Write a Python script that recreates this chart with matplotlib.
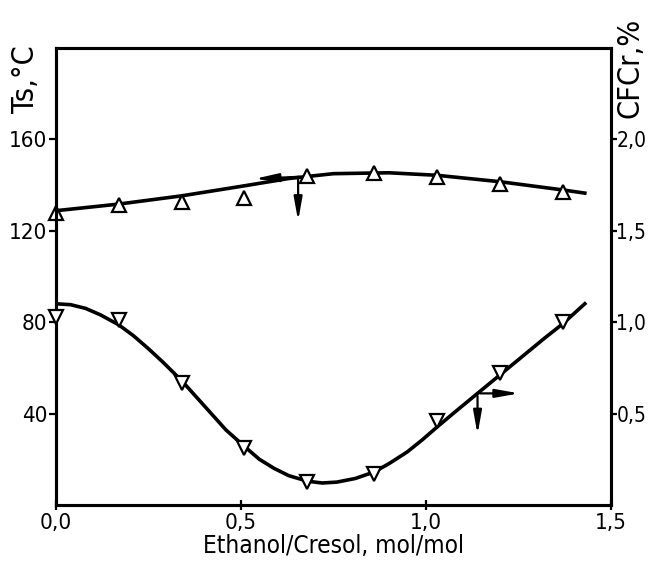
import numpy as np
import matplotlib.pyplot as plt

plt.rcParams['font.family'] = ['DejaVu Sans']
plt.rcParams['font.stretch'] = 'condensed'

# Ts data (left axis, deg C)
x_pts = [0.0, 0.17, 0.34, 0.51, 0.68, 0.86, 1.03, 1.20, 1.37]
ts_pts = [127.5, 131.3, 132.5, 134.3, 143.8, 145.3, 143.5, 140.6, 137.0]
# smooth Ts curve
ts_curve_x = [0.0, 0.17, 0.34, 0.51, 0.63, 0.75, 0.90, 1.03, 1.20, 1.37, 1.43]
ts_curve_y = [128.7, 131.6, 135.2, 139.6, 142.8, 144.9, 145.3, 144.2, 141.4, 137.8, 136.4]

# CFCr data (right axis, %)
cf_pts = [1.03, 1.01, 0.665, 0.31, 0.127, 0.168, 0.458, 0.72, 1.00]
cf_curve_x = [0.0, 0.04, 0.08, 0.12, 0.17, 0.21, 0.25, 0.29, 0.34, 0.38, 0.42, 0.46,
              0.51, 0.55, 0.59, 0.63, 0.68, 0.72, 0.76, 0.81, 0.86, 0.90, 0.95, 0.99,
              1.03, 1.08, 1.14, 1.20, 1.26, 1.32, 1.37, 1.43]
cf_curve_y = [1.10, 1.095, 1.075, 1.04, 0.985, 0.925, 0.855, 0.78, 0.68, 0.59, 0.50, 0.41,
              0.32, 0.25, 0.20, 0.16, 0.13, 0.12, 0.125, 0.145, 0.18, 0.225, 0.29, 0.355,
              0.425, 0.51, 0.61, 0.71, 0.81, 0.91, 0.99, 1.10]

# axis-indicator arrows (x, y) : start -> end
ts_arrow_h = [(0.665, 143.6), (0.53, 142.6)]
ts_arrow_v = [(0.655, 143.6), (0.655, 123.0)]
cf_arrow_h = [(1.14, 0.61), (1.26, 0.61)]
cf_arrow_v = [(1.14, 0.61), (1.14, 0.37)]

xticks = [0.0, 0.5, 1.0, 1.5]
yticks_l = [40, 80, 120, 160]
yticks_r = [0.5, 1.0, 1.5, 2.0]

fig = plt.figure(figsize=(6.49, 5.68), dpi=100)
ax = fig.add_axes([0.086, 0.111, 0.855, 0.805])
ax2 = ax.twinx()

ax.plot(ts_curve_x, ts_curve_y, color='black', lw=2.6, zorder=3)
ax.plot(x_pts, ts_pts, linestyle='none', marker='^', ms=10, mfc='white',
        mec='black', mew=1.6, zorder=4, clip_on=False)

ax2.plot(cf_curve_x, cf_curve_y, color='black', lw=2.6, zorder=3)
ax2.plot(x_pts, cf_pts, linestyle='none', marker='v', ms=10, mfc='white',
         mec='black', mew=1.6, zorder=4, clip_on=False)

aprops = dict(arrowstyle='-|>,head_length=1.4,head_width=0.25', color='black', lw=1.6)
for (a, b) in [ts_arrow_h, ts_arrow_v]:
    ax.annotate('', xy=b, xytext=a, arrowprops=aprops)
for (a, b) in [cf_arrow_h, cf_arrow_v]:
    ax2.annotate('', xy=b, xytext=a, arrowprops=aprops)

ax.set_xlim(0, 1.5)
ax.set_ylim(0, 200)
ax2.set_ylim(0, 2.5)

ax.set_xticks(xticks)
ax.set_xticklabels([('%.1f' % v).replace('.', ',') for v in xticks])
ax.set_yticks(yticks_l)
ax.set_yticklabels([str(v) for v in yticks_l])
ax2.set_yticks(yticks_r)
ax2.set_yticklabels([('%.1f' % v).replace('.', ',') for v in yticks_r])

for s in ['left', 'right', 'top', 'bottom']:
    ax.spines[s].set_linewidth(2.2)
    ax2.spines[s].set_linewidth(2.2)

ax.tick_params(axis='x', direction='inout', length=7, width=1.6, labelsize=16, pad=2)
ax.tick_params(axis='y', direction='out', length=5, width=1.6, labelsize=16, pad=1)
ax2.tick_params(axis='y', direction='out', length=4, width=1.6, labelsize=15, pad=0)

ax.set_xlabel('Ethanol/Cresol, mol/mol', fontsize=17.5, labelpad=1)
fig.text(0.040, 0.86, 'Ts,°C', rotation=90, fontsize=22, ha='center', va='center')
fig.text(0.970, 0.88, 'CFCr,%', rotation=90, fontsize=22, ha='center', va='center')

fig.savefig('out.png', dpi=100)
